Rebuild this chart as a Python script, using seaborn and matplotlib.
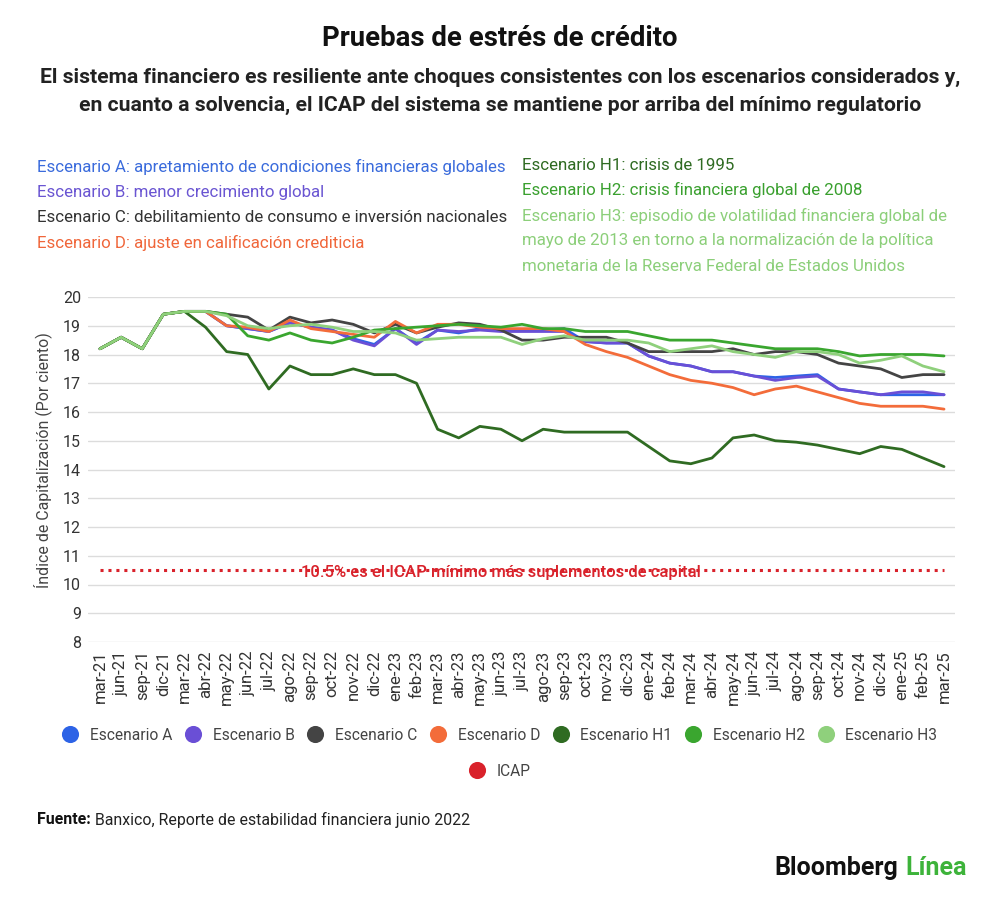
import matplotlib.pyplot as plt
import matplotlib.transforms as mtransforms
from matplotlib.lines import Line2D
import seaborn as sns
import pandas as pd

# x axis categories (as shown on the chart)
months = [
    "mar-21", "jun-21", "sep-21", "dic-21", "mar-22", "abr-22", "may-22", "jun-22",
    "jul-22", "ago-22", "sep-22", "oct-22", "nov-22", "dic-22", "ene-23", "feb-23",
    "mar-23", "abr-23", "may-23", "jun-23", "jul-23", "ago-23", "sep-23", "oct-23",
    "nov-23", "dic-23", "ene-24", "feb-24", "mar-24", "abr-24", "may-24", "jun-24",
    "jul-24", "ago-24", "sep-24", "oct-24", "nov-24", "dic-24", "ene-25", "feb-25",
    "mar-25",
]

# shared history before the scenarios split
history = [18.2, 18.6, 18.2, 19.4, 19.5]

esc_a = history + [
    19.5, 19.0, 18.9, 18.8, 19.1, 18.95, 18.85, 18.55, 18.35, 18.9, 18.4, 18.85,
    18.75, 18.9, 18.85, 18.85, 18.85, 18.9, 18.45, 18.4, 18.4, 17.95, 17.7, 17.6,
    17.4, 17.4, 17.25, 17.2, 17.25, 17.3, 16.8, 16.7, 16.6, 16.6, 16.6, 16.6,
]
esc_b = history + [
    19.5, 19.0, 18.9, 18.8, 19.1, 18.95, 18.85, 18.5, 18.3, 18.9, 18.35, 18.85,
    18.8, 18.85, 18.8, 18.8, 18.8, 18.8, 18.45, 18.4, 18.4, 17.95, 17.7, 17.6,
    17.4, 17.4, 17.25, 17.1, 17.2, 17.25, 16.8, 16.7, 16.6, 16.7, 16.7, 16.6,
]
esc_c = history + [
    19.5, 19.4, 19.3, 18.85, 19.3, 19.1, 19.2, 19.05, 18.75, 19.05, 18.75, 18.95,
    19.1, 19.05, 18.85, 18.5, 18.5, 18.6, 18.6, 18.6, 18.4, 18.1, 18.1, 18.1,
    18.1, 18.2, 18.0, 18.1, 18.1, 18.0, 17.7, 17.6, 17.5, 17.2, 17.3, 17.3,
]
esc_d = history + [
    19.5, 19.0, 18.95, 18.8, 19.2, 18.9, 18.8, 18.7, 18.6, 19.15, 18.75, 19.05,
    19.05, 18.95, 18.9, 18.9, 18.9, 18.8, 18.35, 18.1, 17.9, 17.6, 17.3, 17.1,
    17.0, 16.85, 16.6, 16.8, 16.9, 16.7, 16.5, 16.3, 16.2, 16.2, 16.2, 16.1,
]
esc_h1 = history + [
    18.95, 18.1, 18.0, 16.8, 17.6, 17.3, 17.3, 17.5, 17.3, 17.3, 17.0, 15.4,
    15.1, 15.5, 15.4, 15.0, 15.4, 15.3, 15.3, 15.3, 15.3, 14.8, 14.3, 14.2,
    14.4, 15.1, 15.2, 15.0, 14.95, 14.85, 14.7, 14.55, 14.8, 14.7, 14.4, 14.1,
]
esc_h2 = history + [
    19.5, 19.4, 18.65, 18.5, 18.75, 18.5, 18.4, 18.6, 18.85, 18.9, 18.95, 19.0,
    19.05, 19.0, 18.95, 19.05, 18.9, 18.9, 18.8, 18.8, 18.8, 18.65, 18.5, 18.5,
    18.5, 18.4, 18.3, 18.2, 18.2, 18.2, 18.1, 17.95, 18.0, 18.0, 18.0, 17.95,
]
esc_h3 = history + [
    19.5, 19.35, 19.0, 18.9, 19.0, 19.05, 18.95, 18.8, 18.8, 18.75, 18.5, 18.55,
    18.6, 18.6, 18.6, 18.35, 18.55, 18.65, 18.5, 18.5, 18.5, 18.4, 18.1, 18.2,
    18.3, 18.1, 18.0, 17.9, 18.1, 18.1, 18.0, 17.7, 17.8, 17.95, 17.6, 17.4,
]
icap_min = 10.5

series_names = ["Escenario A", "Escenario B", "Escenario C", "Escenario D",
                "Escenario H1", "Escenario H2", "Escenario H3"]
series_values = [esc_a, esc_b, esc_c, esc_d, esc_h1, esc_h2, esc_h3]
colors = ["#2d63e6", "#6a4fd6", "#444444", "#f36c3a", "#2f6b22", "#3aa62f", "#8fd07c"]
icap_color = "#d9222b"

header_left = [
    ("Escenario A: apretamiento de condiciones financieras globales", "#3a6bdc"),
    ("Escenario B: menor crecimiento global", "#6a55d2"),
    ("Escenario C: debilitamiento de consumo e inversión nacionales", "#333333"),
    ("Escenario D: ajuste en calificación crediticia", "#f0663a"),
]
header_right = [
    ("Escenario H1: crisis de 1995", "#2f6b22"),
    ("Escenario H2: crisis financiera global de 2008", "#3aa02f"),
    ("Escenario H3: episodio de volatilidad financiera global de", "#8ccf7a"),
    ("mayo de 2013 en torno a la normalización de la política", "#8ccf7a"),
    ("monetaria de la Reserva Federal de Estados Unidos", "#8ccf7a"),
]

# long table for seaborn
rows = []
for name, vals in zip(series_names, series_values):
    for i, v in enumerate(vals):
        rows.append({"idx": i, "valor": v, "serie": name})
long = pd.DataFrame(rows)
icap_df = pd.DataFrame({"idx": range(len(months)), "valor": [icap_min] * len(months)})

sns.set_theme(style="whitegrid")
plt.rcParams["font.family"] = ["Roboto", "DejaVu Sans"]

W, H = 1000, 900
fig = plt.figure(figsize=(10, 9), dpi=100)
ax = fig.add_axes([88 / W, 1 - 642 / H, (955 - 88) / W, (642 - 297) / H])

sns.lineplot(data=icap_df, x="idx", y="valor", color=icap_color, linewidth=2.2,
             linestyle=(0, (1, 1.6)), ax=ax, legend=False)
sns.lineplot(data=long, x="idx", y="valor", hue="serie", hue_order=series_names,
             palette=dict(zip(series_names, colors)), linewidth=2, ax=ax,
             legend=False)

ax.text(19, icap_min - 0.08, "10.5% es el ICAP mínimo más suplementos de capital",
        color=icap_color, fontsize=12, fontweight="medium", ha="center",
        va="center")

ax.set_xlim(-0.57, 40.52)
ax.set_ylim(8, 20)
ax.set_xticks(range(len(months)))
ax.set_xticklabels(months, rotation=90, fontsize=12, color="#333333")
ax.set_yticks(range(8, 21))
ax.set_yticklabels([str(v) for v in range(8, 21)], fontsize=11.5, color="#333333")
off = mtransforms.ScaledTranslation(0, 0.09, fig.dpi_scale_trans)
for lab in ax.get_yticklabels():
    lab.set_transform(lab.get_transform() + off)
ax.tick_params(axis="both", length=0)
ax.tick_params(axis="x", pad=6)
ax.tick_params(axis="y", pad=5)
ax.grid(axis="x", visible=False)
ax.grid(axis="y", color="#dcdcdc", linewidth=1)
for sp in ax.spines.values():
    sp.set_visible(False)
ax.set_xlabel("")
ax.set_ylabel("Índice de Capitalización (Por ciento)", fontsize=11.4,
              color="#444444")
ax.yaxis.set_label_coords(-0.042, 0.528)

# titles
fig.text(0.5, 1 - 38 / H, "Pruebas de estrés de crédito", ha="center", va="center",
         fontsize=19.8, fontweight="bold", color="#111111")
fig.text(0.5, 1 - 77 / H,
         "El sistema financiero es resiliente ante choques consistentes con los escenarios considerados y,",
         ha="center", va="center", fontsize=15.2, fontweight="bold", color="#222222")
fig.text(0.5, 1 - 105 / H,
         "en cuanto a solvencia, el ICAP del sistema se mantiene por arriba del mínimo regulatorio",
         ha="center", va="center", fontsize=15.2, fontweight="bold", color="#222222")

# header descriptions
for k, (txt, col) in enumerate(header_left):
    fig.text(37 / W, 1 - (167 + 25.3 * k) / H, txt, color=col, fontsize=12.2,
             ha="left", va="center")
for k, (txt, col) in enumerate(header_right):
    fig.text(522 / W, 1 - (165 + 25.3 * k) / H, txt, color=col, fontsize=12.2,
             ha="left", va="center")

# bottom legend
handles = [Line2D([], [], marker="o", linestyle="none", markersize=11.3,
                  markerfacecolor=c, markeredgecolor=c) for c in colors]
fig.legend(handles, series_names, loc="center", ncol=7,
           bbox_to_anchor=(0.5, 1 - 735 / H), frameon=False, fontsize=11.2,
           handlelength=1.0, handletextpad=0.75, columnspacing=0.85,
           labelcolor="#444444")
icap_handle = Line2D([], [], marker="o", linestyle="none", markersize=11.3,
                     markerfacecolor=icap_color, markeredgecolor=icap_color)
fig.legend([icap_handle], ["ICAP"], loc="center", bbox_to_anchor=(0.5, 1 - 771 / H),
           frameon=False, fontsize=11.2, handlelength=1.0, handletextpad=0.75,
           labelcolor="#444444")

# footer
fig.canvas.draw()
renderer = fig.canvas.get_renderer()
src_bold = fig.text(37 / W, 1 - 820 / H, "Fuente:", fontsize=11.4, fontweight="bold",
                    color="#111111", ha="left", va="center")
bb = src_bold.get_window_extent(renderer)
fig.text((bb.x1 + 4) / W, 1 - 820 / H,
         "Banxico, Reporte de estabilidad financiera junio 2022", fontsize=11.4,
         color="#222222", ha="left", va="center")

linea = fig.text(967 / W, 1 - 868 / H, "Línea", fontsize=18, fontweight="bold",
                 color="#3db33a", ha="right", va="center")
bb2 = linea.get_window_extent(renderer)
fig.text((bb2.x0 - 7) / W, 1 - 868 / H, "Bloomberg", fontsize=18,
         fontweight="bold", color="#111111", ha="right", va="center")

fig.savefig("out.png", dpi=100, facecolor="white")
